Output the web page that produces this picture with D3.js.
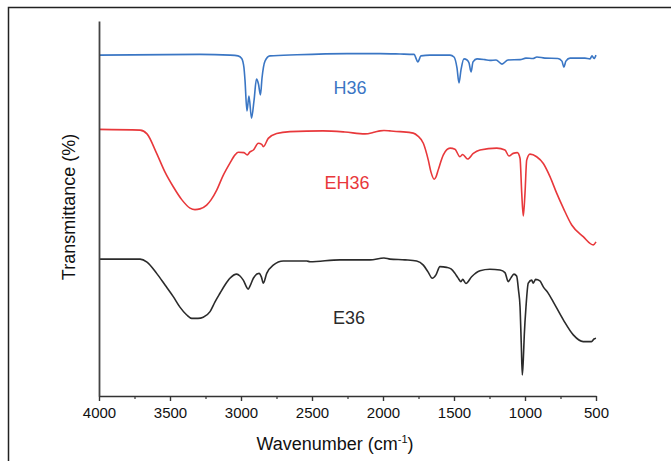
<!DOCTYPE html>
<html>
<head>
<meta charset="utf-8">
<script src="https://cdn.jsdelivr.net/npm/d3@7"></script>
<style>
  body { margin: 0; background: #fff; }
  text { font-family: "Liberation Sans", Arial, sans-serif; }
</style>
</head>
<body>
<div id="frame"></div>
<script>

// wavenumber (cm-1) and transmittance (arbitrary offset %)
var h36_wn = [4000, 3289, 3078, 3021, 2995, 2979, 2972, 2958, 2944, 2926, 2908, 2891, 2877, 2863, 2852, 2831, 2796, 2606, 2254, 2021, 1880, 1782, 1754, 1733, 1669, 1528, 1500, 1479, 1465, 1451, 1430, 1408, 1394, 1380, 1366, 1338, 1282, 1247, 1204, 1162, 1120, 1035, 993, 944, 916, 860, 768, 740, 726, 712, 683, 578, 542, 528, 514, 500];
var h36_t = [90.9, 91.1, 90.9, 90.7, 90.0, 87.5, 84.3, 76.0, 80.0, 74.1, 78.9, 84.5, 83.2, 80.3, 84.8, 89.3, 90.7, 91.0, 91.3, 91.3, 91.2, 91.1, 89.1, 90.7, 90.9, 90.9, 90.4, 87.5, 83.5, 86.9, 89.9, 89.6, 88.8, 86.4, 89.1, 89.9, 89.7, 89.5, 89.6, 88.5, 89.6, 89.7, 90.1, 90.0, 90.4, 90.1, 90.0, 89.3, 87.7, 89.3, 90.1, 90.1, 89.9, 90.7, 90.0, 90.9];

var eh36_wn = [4000, 3711, 3662, 3594, 3535, 3477, 3416, 3359, 3324, 3289, 3242, 3211, 3171, 3127, 3078, 3042, 3019, 2979, 2956, 2937, 2913, 2878, 2854, 2843, 2808, 2749, 2655, 2423, 2268, 2127, 2056, 2021, 1993, 1951, 1880, 1787, 1754, 1716, 1681, 1662, 1639, 1627, 1611, 1575, 1528, 1493, 1458, 1439, 1404, 1364, 1317, 1199, 1141, 1113, 1083, 1054, 1035, 1023, 1012, 1000, 988, 965, 918, 871, 824, 777, 730, 671, 590, 519, 500];
var eh36_t = [71.1, 70.9, 69.9, 64.7, 59.7, 55.8, 52.3, 50.1, 49.7, 49.9, 50.9, 52.3, 54.9, 58.7, 62.1, 64.3, 65.0, 64.9, 64.3, 65.1, 65.6, 67.4, 67.1, 66.5, 68.7, 70.0, 70.5, 70.7, 70.4, 69.9, 70.4, 70.7, 70.8, 70.7, 70.5, 70.1, 69.3, 67.4, 62.9, 59.7, 57.8, 58.4, 60.3, 64.3, 66.1, 65.8, 63.8, 64.4, 63.2, 64.7, 65.6, 66.1, 65.6, 64.0, 64.7, 64.9, 63.4, 54.1, 48.0, 54.1, 62.9, 64.5, 63.8, 62.0, 58.5, 54.1, 50.1, 45.6, 42.5, 40.3, 41.1];

var e36_wn = [4000, 3711, 3662, 3594, 3535, 3477, 3430, 3382, 3347, 3303, 3266, 3218, 3183, 3148, 3113, 3078, 3030, 3007, 2984, 2949, 2937, 2913, 2873, 2856, 2843, 2819, 2773, 2702, 2537, 2514, 2303, 2092, 1993, 1951, 1845, 1763, 1716, 1683, 1653, 1627, 1599, 1552, 1521, 1493, 1472, 1451, 1439, 1416, 1376, 1317, 1247, 1176, 1141, 1118, 1099, 1078, 1059, 1046, 1035, 1026, 1019, 1012, 1005, 993, 977, 953, 942, 925, 895, 871, 838, 801, 730, 660, 590, 532, 514, 500];
var e36_t = [36.5, 36.5, 35.7, 32.7, 29.6, 26.5, 23.7, 21.6, 20.7, 20.7, 21.0, 22.5, 25.1, 27.4, 29.6, 31.4, 32.5, 32.0, 30.9, 28.5, 29.3, 31.4, 32.7, 31.7, 30.1, 32.7, 34.9, 36.0, 36.0, 35.8, 36.3, 36.3, 36.8, 36.5, 36.3, 36.0, 34.9, 33.1, 31.4, 32.3, 34.5, 34.3, 33.9, 32.7, 31.5, 30.5, 31.1, 30.0, 31.8, 33.4, 33.8, 33.6, 32.9, 30.5, 31.5, 32.5, 32.0, 28.3, 23.8, 13.6, 5.6, 9.6, 16.3, 23.8, 30.1, 30.9, 30.1, 31.1, 30.7, 29.1, 27.5, 25.1, 20.3, 16.3, 14.5, 14.5, 15.2, 15.4];

var series_names = ["H36", "EH36", "E36"];
var series_colours = ["#3a76c4", "#e8383b", "#2b2b2b"];
// label anchor: wavenumber, transmittance
var label_wn = [2233, 2254, 2240];
var label_t = [80.5, 55.2, 19.2];

var x_ticks = [4000, 3500, 3000, 2500, 2000, 1500, 1000, 500];
var x_minor = [3750, 3250, 2750, 2250, 1750, 1250, 750];

var width = 671, height = 461;
var svg = d3.select('#frame').append('svg').attr('width', width).attr('height', height);

// outer frame (left and top edges only visible)
svg.append("path")
  .attr("d", "M8.5,461 V7.5 H671")
  .attr("fill", "none")
  .attr("stroke", "#222")
  .attr("stroke-width", 1.5);

var x = d3.scaleLinear().domain([4000, 500]).range([99, 596]);
var y = d3.scaleLinear().domain([0, 100]).range([396, 21]);

var all_wn = [h36_wn, eh36_wn, e36_wn];
var all_t = [h36_t, eh36_t, e36_t];

var line = d3.line()
  .x(function(d) { return x(d[0]); })
  .y(function(d) { return y(d[1]); })
  .curve(d3.curveMonotoneX);

for (var i = 0; i < 3; i++) {
  var pts = all_wn[i].map(function(w, j) { return [w, all_t[i][j]]; });
  svg.append("path")
    .datum(pts)
    .attr("d", line)
    .attr("fill", "none")
    .attr("stroke", series_colours[i])
    .attr("stroke-width", 1.6)
    .attr("stroke-linejoin", "round");

  svg.append("text")
    .attr("x", x(label_wn[i]))
    .attr("y", y(label_t[i]))
    .attr("text-anchor", "middle")
    .attr("font-size", "18px")
    .attr("fill", series_colours[i])
    .text(series_names[i]);
}

// x axis
var xAxis = svg.append("g")
  .attr("transform", "translate(0," + y(0) + ")")
  .call(d3.axisBottom(x).tickValues(x_ticks).tickFormat(d3.format("d"))
    .tickSize(5).tickSizeOuter(0).tickPadding(6));
xAxis.select(".domain").attr("stroke", "#333").attr("stroke-width", 1.6);
xAxis.selectAll(".tick line").attr("stroke", "#333").attr("stroke-width", 1.4);
xAxis.selectAll(".tick text")
  .attr("font-size", "15px")
  .attr("fill", "#111")
  .attr("font-family", "'Liberation Sans', Arial, sans-serif");

var xMinor = svg.append("g")
  .attr("transform", "translate(0," + y(0) + ")")
  .call(d3.axisBottom(x).tickValues(x_minor).tickSize(3).tickFormat(""));
xMinor.select(".domain").remove();
xMinor.selectAll(".tick line").attr("stroke", "#333").attr("stroke-width", 1.2);

// y axis: line only
var yAxis = svg.append("g")
  .attr("transform", "translate(" + x(4000) + ",0)")
  .call(d3.axisLeft(y).tickValues([]).tickSizeOuter(0));
yAxis.select(".domain").attr("stroke", "#444").attr("stroke-width", 1.8);

// axis titles
var xt = svg.append("text")
  .attr("x", 335)
  .attr("y", 450)
  .attr("text-anchor", "middle")
  .attr("font-size", "18px")
  .attr("fill", "#111");
xt.append("tspan").text("Wavenumber (cm");
xt.append("tspan").attr("font-size", "11px").attr("dy", "-7").text("-1");
xt.append("tspan").attr("dy", "7").text(")");

svg.append("text")
  .attr("transform", "translate(75,207) rotate(-90)")
  .attr("text-anchor", "middle")
  .attr("font-size", "18px")
  .attr("fill", "#111")
  .text("Transmittance (%)");

</script>
</body>
</html>
